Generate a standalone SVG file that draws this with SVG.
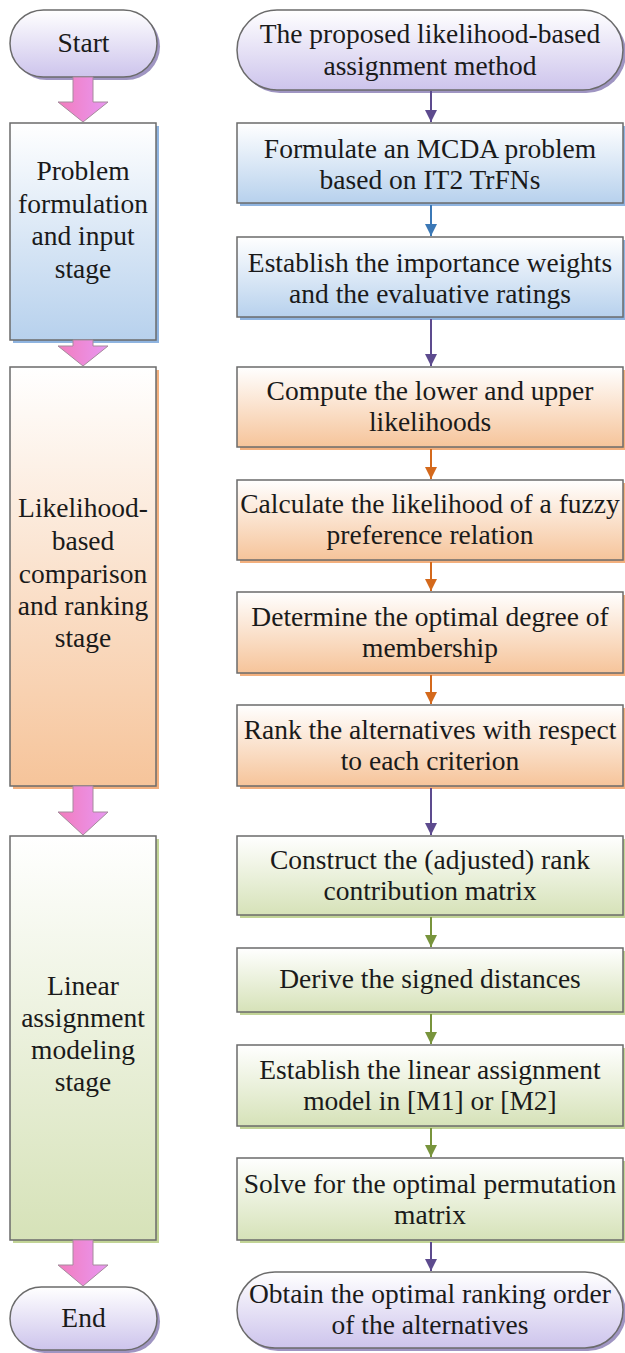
<svg xmlns="http://www.w3.org/2000/svg" width="625" height="1353" viewBox="0 0 625 1353">
<defs>
<linearGradient id="gBlue" x1="0" y1="0" x2="0" y2="1"><stop offset="0" stop-color="#ffffff"/><stop offset="1" stop-color="#b7d1ed"/></linearGradient>
<linearGradient id="gOrange" x1="0" y1="0" x2="0" y2="1"><stop offset="0" stop-color="#ffffff"/><stop offset="1" stop-color="#f6c49a"/></linearGradient>
<linearGradient id="gGreen" x1="0" y1="0" x2="0" y2="1"><stop offset="0" stop-color="#ffffff"/><stop offset="1" stop-color="#d6e2b8"/></linearGradient>
<linearGradient id="gPill" x1="0" y1="0" x2="0" y2="1"><stop offset="0" stop-color="#ffffff"/><stop offset="1" stop-color="#cdc4ec"/></linearGradient>
<linearGradient id="gPink" x1="0" y1="0" x2="1" y2="0"><stop offset="0" stop-color="#f27cbd"/><stop offset="1" stop-color="#e897f2"/></linearGradient>
<marker id="mPurple" viewBox="0 0 12 12" refX="12" refY="6" markerWidth="12" markerHeight="12" markerUnits="userSpaceOnUse" orient="auto"><path d="M0,0 L12,6 L0,12 Z" fill="#5d4b8e"/></marker>
<marker id="mBlue" viewBox="0 0 12 12" refX="12" refY="6" markerWidth="12" markerHeight="12" markerUnits="userSpaceOnUse" orient="auto"><path d="M0,0 L12,6 L0,12 Z" fill="#3b78b6"/></marker>
<marker id="mOrange" viewBox="0 0 12 12" refX="12" refY="6" markerWidth="12" markerHeight="12" markerUnits="userSpaceOnUse" orient="auto"><path d="M0,0 L12,6 L0,12 Z" fill="#d4691c"/></marker>
<marker id="mGreen" viewBox="0 0 12 12" refX="12" refY="6" markerWidth="12" markerHeight="12" markerUnits="userSpaceOnUse" orient="auto"><path d="M0,0 L12,6 L0,12 Z" fill="#78943c"/></marker>
</defs>
<style>
text{font-family:"Liberation Serif","Times New Roman",serif;font-size:27.5px;fill:#1a1a1a;text-anchor:middle}
.box{stroke:#6b6b6b;stroke-width:1.5}
.blue{fill:url(#gBlue)}
.orange{fill:url(#gOrange)}
.green{fill:url(#gGreen)}
.pill{fill:url(#gPill)}
.shB{fill:#8fb4e0}
.shO{fill:#f3b07e}
.shG{fill:#c2d496}
.shP{fill:#9f95c2}
.pink{fill:url(#gPink);stroke:#a58a9c;stroke-width:1}
.cP{stroke:#5d4b8e;stroke-width:2;fill:none;marker-end:url(#mPurple)}
.cB{stroke:#3b78b6;stroke-width:2;fill:none;marker-end:url(#mBlue)}
.cO{stroke:#d4691c;stroke-width:2;fill:none;marker-end:url(#mOrange)}
.cG{stroke:#78943c;stroke-width:2;fill:none;marker-end:url(#mGreen)}
</style>
<!-- Left column -->
<g id="start">
<rect x="13" y="13" width="147" height="67" rx="33.5" class="shP"/>
<rect x="10" y="10" width="147" height="67" rx="33.5" class="pill box"/>
<text x="83.5" y="52">Start</text>
</g>
<g id="stage1">
<rect x="13" y="126" width="146" height="217" class="shB"/>
<rect x="10" y="123" width="146" height="217" class="blue box"/>
<text x="83" y="180">Problem</text>
<text x="83" y="213">formulation</text>
<text x="83" y="245">and input</text>
<text x="83" y="278">stage</text>
</g>
<g id="stage2">
<rect x="13" y="370" width="146" height="419" class="shO"/>
<rect x="10" y="367" width="146" height="419" class="orange box"/>
<text x="83" y="517">Likelihood-</text>
<text x="83" y="550">based</text>
<text x="83" y="583">comparison</text>
<text x="83" y="615">and ranking</text>
<text x="83" y="647">stage</text>
</g>
<g id="stage3">
<rect x="13" y="839" width="146" height="404" class="shG"/>
<rect x="10" y="836" width="146" height="404" class="green box"/>
<text x="83" y="995">Linear</text>
<text x="83" y="1027">assignment</text>
<text x="83" y="1059">modeling</text>
<text x="83" y="1091">stage</text>
</g>
<g id="end">
<rect x="13" y="1290" width="147" height="63" rx="31.5" class="shP"/>
<rect x="10" y="1287" width="147" height="63" rx="31.5" class="pill box"/>
<text x="83.5" y="1327">End</text>
</g>

<!-- Right column -->
<g id="method">
<rect x="240" y="13" width="386" height="80" rx="40" class="shP"/>
<rect x="237" y="10" width="386" height="80" rx="40" class="pill box"/>
<text x="430" y="43">The proposed likelihood-based</text>
<text x="430" y="75">assignment method</text>
</g>
<g id="formulate">
<rect x="240" y="126" width="386" height="80" class="shB"/>
<rect x="237" y="123" width="386" height="80" class="blue box"/>
<text x="430" y="158">Formulate an MCDA problem</text>
<text x="430" y="189">based on IT2 TrFNs</text>
</g>
<g id="establish">
<rect x="240" y="240" width="386" height="80" class="shB"/>
<rect x="237" y="237" width="386" height="80" class="blue box"/>
<text x="430" y="272">Establish the importance weights</text>
<text x="430" y="303">and the evaluative ratings</text>
</g>
<g id="compute">
<rect x="240" y="370" width="386" height="80" class="shO"/>
<rect x="237" y="367" width="386" height="80" class="orange box"/>
<text x="430" y="400">Compute the lower and upper</text>
<text x="430" y="431">likelihoods</text>
</g>
<g id="calculate">
<rect x="240" y="483" width="386" height="80" class="shO"/>
<rect x="237" y="480" width="386" height="80" class="orange box"/>
<text x="430" y="513">Calculate the likelihood of a fuzzy</text>
<text x="430" y="544">preference relation</text>
</g>
<g id="determine">
<rect x="240" y="595" width="386" height="81" class="shO"/>
<rect x="237" y="592" width="386" height="81" class="orange box"/>
<text x="430" y="626">Determine the optimal degree of</text>
<text x="430" y="657">membership</text>
</g>
<g id="rank">
<rect x="240" y="708" width="386" height="81" class="shO"/>
<rect x="237" y="705" width="386" height="81" class="orange box"/>
<text x="430" y="739">Rank the alternatives with respect</text>
<text x="430" y="770">to each criterion</text>
</g>
<g id="construct">
<rect x="240" y="839" width="386" height="79" class="shG"/>
<rect x="237" y="836" width="386" height="79" class="green box"/>
<text x="430" y="869">Construct the (adjusted) rank</text>
<text x="430" y="900">contribution matrix</text>
</g>
<g id="derive">
<rect x="240" y="951" width="386" height="64" class="shG"/>
<rect x="237" y="948" width="386" height="64" class="green box"/>
<text x="430" y="988">Derive the signed distances</text>
</g>
<g id="linear">
<rect x="240" y="1048" width="386" height="81" class="shG"/>
<rect x="237" y="1045" width="386" height="81" class="green box"/>
<text x="430" y="1079">Establish the linear assignment</text>
<text x="430" y="1110">model in [M1] or [M2]</text>
</g>
<g id="solve">
<rect x="240" y="1161" width="386" height="82" class="shG"/>
<rect x="237" y="1158" width="386" height="82" class="green box"/>
<text x="430" y="1193">Solve for the optimal permutation</text>
<text x="430" y="1224">matrix</text>
</g>
<g id="obtain">
<rect x="240" y="1275" width="386" height="76" rx="38" class="shP"/>
<rect x="237" y="1272" width="386" height="76" rx="38" class="pill box"/>
<text x="430" y="1303">Obtain the optimal ranking order</text>
<text x="430" y="1334">of the alternatives</text>
</g>
<!-- Connectors -->
<g id="connectors">
<path class="pink" d="M73,77 H93 V102 H108 L83,122 L58,102 H73 Z"/>
<path class="pink" d="M73,340 H93 V346 H108 L83,366 L58,346 H73 Z"/>
<path class="pink" d="M73,786 H93 V812 H108 L83,835 L58,812 H73 Z"/>
<path class="pink" d="M73,1240 H93 V1265 H108 L83,1286 L58,1265 H73 Z"/>
<line class="cP" x1="431" y1="91" x2="431" y2="122"/>
<line class="cB" x1="431" y1="205" x2="431" y2="236"/>
<line class="cP" x1="431" y1="319" x2="431" y2="366"/>
<line class="cO" x1="431" y1="449" x2="431" y2="479"/>
<line class="cO" x1="431" y1="562" x2="431" y2="591"/>
<line class="cO" x1="431" y1="675" x2="431" y2="704"/>
<line class="cP" x1="431" y1="788" x2="431" y2="835"/>
<line class="cG" x1="431" y1="917" x2="431" y2="947"/>
<line class="cG" x1="431" y1="1014" x2="431" y2="1044"/>
<line class="cG" x1="431" y1="1128" x2="431" y2="1157"/>
<line class="cP" x1="431" y1="1242" x2="431" y2="1271"/>
</g>
</svg>
